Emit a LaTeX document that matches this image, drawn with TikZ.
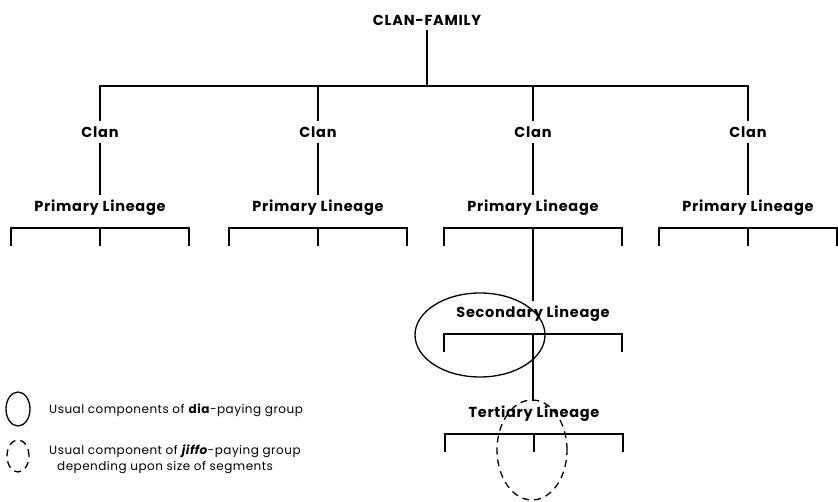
\documentclass[tikz,border=0pt]{standalone}
\usepackage{fontspec}
\setmainfont{Poppins}
\newfontfamily\labelfont[LetterSpace=5]{Poppins}
\newfontfamily\notefont[LetterSpace=4]{Poppins}

\begin{document}
\begin{tikzpicture}[x=1pt, y=-1pt, line width=2.4pt,
	lbl/.style={font=\labelfont\bfseries\fontsize{14.5}{16}\selectfont, inner sep=4pt},
	note/.style={font=\notefont\fontsize{12}{14}\selectfont, anchor=west, inner sep=0pt},
	ring/.style={line width=1.3pt},
	dashring/.style={line width=1.3pt, dash pattern=on 7pt off 5pt}]
	% \drawbracket#node#halfwidth
	\def\drawbracket#1#2{
		\path (#1) ++(0, 20) coordinate (#1-m)
			++(-#2, 0) coordinate (#1-l) ++(2*#2, 0) coordinate (#1-r);
		\draw (#1-l) ++(0, 18) -- (#1-l) -- (#1-r) -- ++(0, 18);
		\draw (#1-m) -- ++(0, 18);
	}
	
	\useasboundingbox (0, 0) rectangle (838, 502);
	
	% top of the tree
	\node[lbl] (family) at (427, 20) {CLAN-FAMILY};
	\coordinate (fork) at (427, 86);
	\draw (family) -- (fork);
	
	% clans and primary lineages
	\foreach \i/\x in {1/100, 2/318, 3/533, 4/748} {
		\node[lbl] (clan\i) at (\x, 132) {Clan};
		\node[lbl] (prim\i) at (\x, 208) {Primary Lineage};
		\draw (clan\i |- fork) -- (clan\i);
		\draw (clan\i) -- (prim\i);
		\drawbracket{prim\i}{89}
	}
	\draw[line cap=rect] (clan1 |- fork) -- (clan4 |- fork);
	
	% secondary and tertiary lineage
	\node[lbl] (second) at (533, 314) {Secondary Lineage};
	\drawbracket{second}{89}
	\draw (prim3-m) -- (prim3-m |- second.north);
	
	\node[lbl] (third) at (534, 414) {Tertiary Lineage};
	\drawbracket{third}{89}
	\draw (second-m) -- (second-m |- third.north);
	
	% groups
	\draw[ring] (480, 335) ellipse [x radius=65pt, y radius=42pt];
	\draw[dashring] (532, 450) ellipse [x radius=35pt, y radius=50pt];
	
	% legend
	\draw[ring] (18, 409) ellipse [x radius=12pt, y radius=17pt];
	\draw[dashring] (18, 456) ellipse [x radius=11pt, y radius=16pt];
	\node[note] (key1) at (48, 410) {Usual components of \textbf{dia}-paying group};
	\node[note] (key2) at (48, 451) {Usual component of \textbf{\textit{jiffo}}-paying group};
	\node[note] (key3) at (56, 468) {depending upon size of segments};
\end{tikzpicture}
\end{document}
